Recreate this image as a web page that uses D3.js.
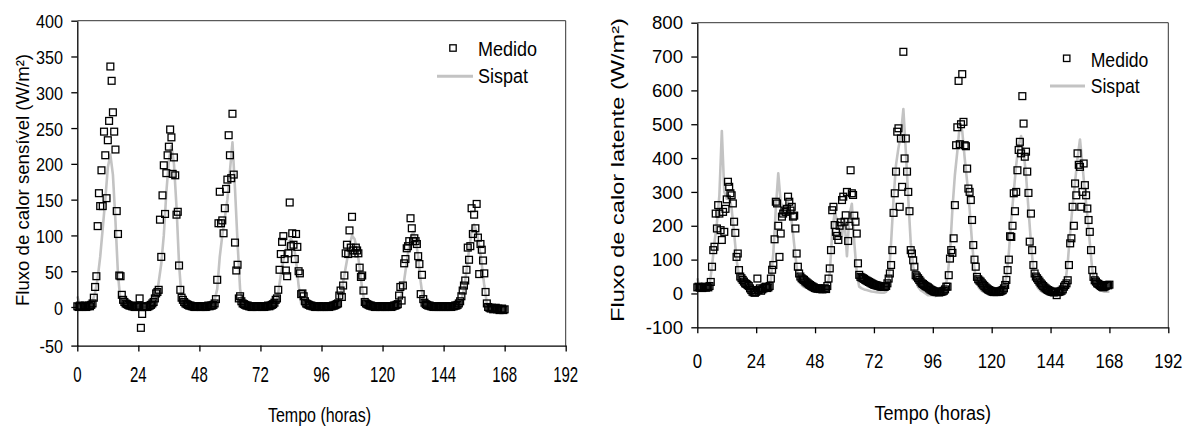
<!DOCTYPE html>
<html><head><meta charset="utf-8">
<script src="https://cdn.jsdelivr.net/npm/d3@7"></script>
<style>
body{margin:0;background:#fff}
svg{display:block}
text{font-family:"Liberation Sans",Arial,Helvetica,sans-serif;fill:#000}
</style>
</head><body>
<svg id="c" width="1192" height="427"></svg>
<script>
// ---------- DATA ----------
const hourTicks = [0, 24, 48, 72, 96, 120, 144, 168, 192];
const sensTicks = [-50, 0, 50, 100, 150, 200, 250, 300, 350, 400];
const latTicks = [-100, 0, 100, 200, 300, 400, 500, 600, 700, 800];
const seriesNames = ["Medido", "Sispat"];
const medidoStepHours = 0.5;   // measured values every half hour, 0..168 h
const sispatStepHours = 1;     // model values every hour, 0..168 h

// Sensible heat flux, measured (W/m2), half-hourly
const sensMedido = [
  1,0,2,1,0,1,2,0,1,2,1,3,5, 13,28,43,113,159,141,191,141,245,212,152,233,260,336,316,272,245,220,134,102,44,43,17,10,7,5,4,3,2,2,1,1,0,0,1,
  2,12,-27,-9,1,0,1,0,1,2,3,5,7,12,19,21,24,122,70,156,198,130,187,212,224,248,237,186,209,184,129,133,58,24,13,10,7,5,4,3,2,2,1,1,0,0,1,1,
  1,0,1,0,1,0,1,2,1,2,2,3, 5,11,38,117,161,117,121,103,138,165,178,240,212,180,270,185,90,51,59,12,15,8,5,4,3,2,2,1,1,0,0,1,1,0,1,1,
  1,0,1,0,1,1,2,1,2,3,4,6,10, 12,24,52,74,91,99,67,51,43,75,146,85,103,87,67,102,84,50,47,18,19,15,8,5,4,3,2,2,1,1,0,0,1,1,0,
  0,1,0,1,0,1,0,1,1,2,2,3,4, 5,16,23,14,30,44,75,87,74,107,83,126,79,75,83,79,75,55,42,44,23,7,5,4,3,2,2,1,1,0,0,1,1,0,1,
  0,1,0,1,0,1,1,0,1,2,2,3, 4,16,28,9,30,61,67,82,85,92,124,110,92,96,92,88,71,60,18,45,11,6,4,3,2,2,1,1,0,1,0,1,0,1,0,1,
  0,1,0,1,0,1,0,1,1,2,2,3,5,8, 15,23,30,37,52,83,66,85,138,102,129,110,144,97,46,88,80,65,47,21,5,0,-1,-2,-1,-3,-2,-1,-3,-2,-4,-3,-2,-4,-3
];
// Sensible heat flux, Sispat model, hourly
const sensSispat = [
  15,3,0,0,0,2,8,20,40,70,110,150,195,213,185,120,45,8,1,0,0,0,0,0,
  0,0,0,0,0,0,2,10,35,60,100,160,205,225,200,140,60,12,2,0,0,0,0,0,
  0,0,0,0,0,2,10,25,70,100,125,150,190,230,165,90,25,3,0,0,0,0,0,0,
  0,0,0,0,0,2,5,20,45,65,80,90,95,88,65,30,5,0,0,0,0,0,0,0,
  0,0,0,0,0,2,5,10,25,45,65,85,100,95,80,55,25,5,0,0,0,0,0,0,
  0,0,0,0,0,2,5,10,25,50,75,95,105,95,70,35,8,0,0,0,0,0,0,0,
  0,0,0,0,0,2,5,10,25,50,80,105,115,105,85,60,30,5,0,0,0,0,0,0,0
];
// Latent heat flux, measured (W/m2), half-hourly
const latMedido = [
  18,20,17,19,16,18,20,17,19,18,22, 34,79,128,138,236,192,261,236,187,158,241,182,250,278,330,315,296,290,266,212,179,108,118,69,50,45,40,35,30,28,25,22,15,10,5,3,2,
  5,44,10,15,8,12,15,18,20,16,18,22, 44,70,84,160,271,266,200,108,177,227,236,245,241,250,286,271,245,256,227,230,192,118,79,59,50,45,42,40,36,33,30,27,25,22,20,18,
  16,15,14,15,13,14,12,14,15,13,22,44, 74,128,246,256,202,182,170,158,200,210,276,286,212,231,300,155,200,364,296,291,230,212,177,89,55,49,47,45,43,40,38,36,34,32,30,28,
  26,25,24,23,22,21,20,20,19,20,22,30, 44,59,84,128,238,296,360,478,488,256,458,315,714,399,458,360,300,243,128,118,98,79,54,50,45,40,35,30,28,25,22,20,18,15,12,10,
  8,6,5,4,5,3,4,5,6,8,12,20, 20,54,103,128,120,163,261,438,491,628,441,500,648,507,438,435,369,310,300,276,217,143,100,79,49,42,38,35,30,26,22,18,15,12,10,8,
  6,5,4,5,4,6,5,6,8,10,15,25, 40,69,100,169,167,200,296,243,300,364,424,448,414,583,502,404,419,360,297,153,236,128,84,59,50,45,40,35,30,26,22,18,15,12,10,8,
  6,5,4,3,5,-5,4,5,6,8,12,20, 25,30,39,84,148,163,256,200,325,290,414,380,374,256,300,384,320,290,251,217,182,128,69,49,39,35,30,28,25,22,20,18,20,22,25,24,26
];
// Latent heat flux, Sispat model, hourly
const latSispat = [
  45,15,12,10,12,25,80,150,210,290,480,300,280,290,250,180,100,50,30,20,12,8,5,3,
  5,5,8,10,12,15,40,120,250,355,270,250,260,270,240,180,110,50,30,22,18,15,12,10,
  10,8,8,8,10,20,60,180,240,215,200,170,220,110,230,265,150,60,20,15,12,10,8,6,
  5,4,3,2,2,5,40,150,280,380,430,470,545,420,280,150,80,40,20,10,5,0,-5,-5,
  -5,-8,-5,0,5,15,50,120,250,350,420,500,480,400,330,250,150,70,30,15,8,5,3,2,
  0,0,0,2,5,15,50,120,220,300,380,440,465,420,350,250,150,70,30,15,8,5,2,0,
  0,-2,0,0,2,8,30,90,180,260,330,400,455,380,300,230,150,70,30,15,10,8,5,5,5
];

// ---------- DRAW ----------
const svg = d3.select("#c");
const LINE_COLOR = "#c3c3c3";

function label(g, x, y, str, o) {
  o = o || {};
  let tr = `translate(${x},${y})`;
  if (o.rot) tr += ` rotate(${o.rot})`;
  tr += ` scale(${o.sx || 1},${o.sy || 1})`;
  return g.append("text")
    .attr("transform", tr)
    .attr("text-anchor", o.anchor || "start")
    .attr("font-size", o.fs || 16)
    .text(str);
}

function panel(p) {
  const g = svg.append("g");
  const x = d3.scaleLinear().domain([0, 192]).range([p.x0, p.x1]);
  const y = d3.scaleLinear().domain(p.yDomain).range(p.yRange);
  const yTop = y(p.yTicks[p.yTicks.length - 1]);
  const yBot = y(p.yTicks[0]);

  // frame (top & right)
  g.append("path")
    .attr("d", `M${p.x0},${yTop}H${p.x1}V${yBot}`)
    .attr("fill", "none").attr("stroke", "#333").attr("stroke-width", 1);

  // model line
  const line = d3.line()
    .x((d, i) => x(i * sispatStepHours))
    .y(d => y(d));
  g.append("path").datum(p.sispat)
    .attr("d", line)
    .attr("fill", "none").attr("stroke", LINE_COLOR)
    .attr("stroke-width", 2.6).attr("stroke-linejoin", "round");

  // measured squares
  const s = 6.8;
  g.append("g").selectAll("rect").data(p.medido).join("rect")
    .attr("x", (d, i) => x(i * medidoStepHours) - s / 2)
    .attr("y", d => y(d) - s / 2)
    .attr("width", s).attr("height", s)
    .attr("fill", "none").attr("stroke", "#000").attr("stroke-width", 1.3);

  // axes
  const ax = g.append("g").attr("transform", `translate(${p.x0},0)`)
    .call(d3.axisLeft(y).tickValues(p.yTicks).tickSize(6).tickSizeOuter(0).tickFormat(""));
  const bx = g.append("g").attr("transform", `translate(0,${yBot})`)
    .call(d3.axisBottom(x).tickValues(hourTicks).tickSize(6).tickSizeOuter(0).tickFormat(""));
  [ax, bx].forEach(a => {
    a.selectAll("path,line").attr("stroke", "#000").attr("stroke-width", 1.3);
    a.selectAll("text").remove();
  });

  // tick labels
  p.yTicks.forEach(v => label(g, p.yLabX, y(v) + p.yLabDy, String(v),
    { fs: p.yLabFs, sy: p.yLabSy, anchor: "end" }));
  hourTicks.forEach(h => label(g, x(h), p.xLabBase, String(h),
    { fs: p.xLabFs, sy: p.xLabSy, anchor: "middle" }));

  // titles
  label(g, (p.x0 + p.x1) / 2 + p.xTitleDx, p.xTitleBase, "Tempo (horas)",
    { fs: p.xTitleFs, sy: p.xTitleSy, anchor: "middle" });
  label(g, p.yTitleX, p.yTitleY, p.yTitle,
    { fs: p.yTitleFs, sx: p.yTitleSx, rot: -90, anchor: "middle" });

  // legend
  const L = p.legend;
  g.append("rect").attr("x", L.sx - 3.2).attr("y", L.sy - 3.2).attr("width", 6.4).attr("height", 6.4)
    .attr("fill", "none").attr("stroke", "#000").attr("stroke-width", 1.3);
  label(g, L.tx, L.b1, seriesNames[0], { fs: L.fs, sy: L.fsy });
  g.append("line").attr("x1", L.lx0).attr("x2", L.lx1).attr("y1", L.ly).attr("y2", L.ly)
    .attr("stroke", LINE_COLOR).attr("stroke-width", 3);
  label(g, L.tx, L.b2, seriesNames[1], { fs: L.fs, sy: L.fsy });
}

panel({
  x0: 77.3, x1: 565.7,
  yDomain: [-50, 0, 400], yRange: [345.6, 307, 20.7], yTicks: sensTicks,
  medido: sensMedido, sispat: sensSispat,
  yLabX: 63, yLabDy: 7.6, yLabFs: 16.2, yLabSy: 1.15,
  xLabBase: 381.5, xLabFs: 15, xLabSy: 1.49,
  xTitleDx: -2, xTitleBase: 422, xTitleFs: 16, xTitleSy: 1.25,
  yTitle: "Fluxo de calor sensível (W/m²)", yTitleX: 28.5, yTitleY: 180, yTitleFs: 18.6, yTitleSx: 1,
  legend: { sx: 453, sy: 48, tx: 478, b1: 56, b2: 83, fs: 18, fsy: 1.11, lx0: 437, lx1: 473, ly: 76.3 }
});

panel({
  x0: 697.3, x1: 1168.3,
  yDomain: [-100, 800], yRange: [327.3, 22.7], yTicks: latTicks,
  medido: latMedido, sispat: latSispat,
  yLabX: 683, yLabDy: 6.7, yLabFs: 18.6, yLabSy: 1.0,
  xLabBase: 368.3, xLabFs: 16.8, xLabSy: 1.25,
  xTitleDx: 0, xTitleBase: 420, xTitleFs: 18.1, xTitleSy: 1.1,
  yTitle: "Fluxo de calor latente (W/m²)", yTitleX: 624, yTitleY: 170, yTitleFs: 18, yTitleSx: 1.31,
  legend: { sx: 1066.7, sy: 58.3, tx: 1090.7, b1: 66.7, b2: 92.7, fs: 17.6, fsy: 1.19, lx0: 1050, lx1: 1085, ly: 86 }
});
</script>
</body></html>
